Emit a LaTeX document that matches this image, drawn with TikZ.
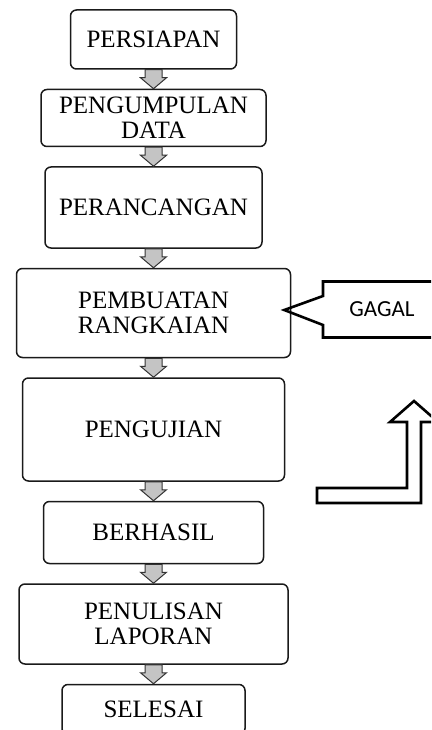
\documentclass[tikz,border=0pt]{standalone}
\usepackage{fontspec}
\setmainfont{Liberation Serif}
\newfontfamily\gagalfont{Carlito}
\usetikzlibrary{positioning}
\usetikzlibrary{shapes.callouts}
\definecolor{boxline}{HTML}{1A1A1A}
\definecolor{arrowfill}{HTML}{C4C4C4}
\definecolor{arrowline}{HTML}{333333}
\tikzstyle{stage} = [rectangle, rounded corners=6pt, draw=boxline, line width=1.5pt, align=center, inner sep=2pt, font=\fontsize{25}{25}\selectfont, node distance=19pt]
\tikzstyle{flowarrow} = [fill=arrowfill, draw=arrowline, line width=1pt, line join=miter]
\tikzstyle{failbox} = [rectangle callout, draw=black, line width=2.6pt, font=\gagalfont\fontsize{23}{23}\selectfont, minimum width=118pt, minimum height=56pt, callout pointer width=29pt]
\tikzstyle{backarrow} = [draw=black, line width=2.6pt, line join=miter]
\newcommand{\flowedge}[2]{%
  \draw[flowarrow] (#2.north) -- ++(-13pt,11pt) -- ++(4.5pt,0) -- ([xshift=-8.5pt]#1.south)
    -- ([xshift=8.5pt]#1.south) -- ++(0,-8pt) -- ++(4.5pt,0) -- cycle;}

\begin{document}
\begin{tikzpicture}[x=1pt, y=1pt]
\clip (0,0) rectangle (431,-730);

% Define nodes
\node[stage, minimum width=166pt, minimum height=59pt]                       (persiapan) at (153.5,-39.5) {PERSIAPAN};
\node[stage, below = of persiapan, minimum width=225pt, minimum height=57pt]  (data)    {PENGUMPULAN\\DATA};
\node[stage, below = of data, minimum width=217pt, minimum height=81pt]       (rancang) {PERANCANGAN};
\node[stage, below = of rancang, minimum width=274pt, minimum height=89pt]    (rangkai) {PEMBUATAN\\RANGKAIAN};
\node[stage, below = of rangkai, minimum width=262pt, minimum height=103pt]   (uji)     {PENGUJIAN};
\node[stage, below = of uji, minimum width=220pt, minimum height=62pt]        (hasil)   {BERHASIL};
\node[stage, below = of hasil, minimum width=269pt, minimum height=80pt]      (laporan) {PENULISAN\\LAPORAN};
\node[stage, below = of laporan, minimum width=183pt, minimum height=50pt]    (selesai) {SELESAI};

\node[failbox, callout absolute pointer={([xshift=-7pt, yshift=3pt]rangkai.east)}] (gagal) at (382,-309.5) {GAGAL};
\coordinate (uptip) at (414,-401);

% Edges
\flowedge{persiapan}{data}
\flowedge{data}{rancang}
\flowedge{rancang}{rangkai}
\flowedge{rangkai}{uji}
\flowedge{uji}{hasil}
\flowedge{hasil}{laporan}
\flowedge{laporan}{selesai}

% back arrow to GAGAL
\draw[backarrow] (uptip) -- ++(24,-21) -- ++(-17,0) -- ++(0,-81) -- ++(-104,0) -- ++(0,15)
  -- ++(90,0) -- ++(0,66) -- ++(-17,0) -- cycle;

\end{tikzpicture}
\end{document}
